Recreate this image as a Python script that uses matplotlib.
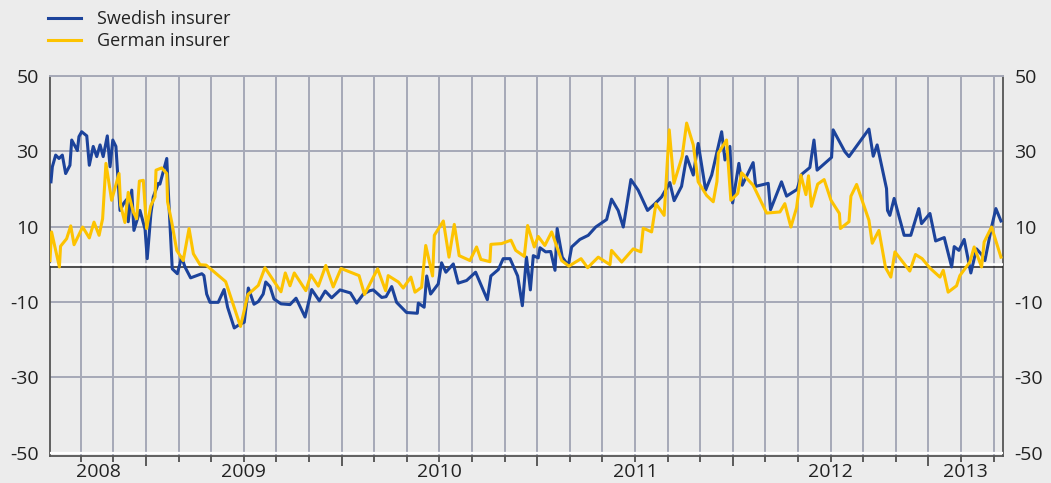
import numpy as np
import matplotlib
matplotlib.use("Agg")
import matplotlib.pyplot as plt

plt.rcParams['font.family'] = ['Open Sans', 'DejaVu Sans']
plt.rcParams['axes.unicode_minus'] = False

# decimal years
swedish_t = [2008.514, 2008.521, 2008.538, 2008.555, 2008.572, 2008.589, 2008.611, 2008.620, 2008.649, 2008.657,
             2008.671, 2008.697, 2008.710, 2008.730, 2008.748, 2008.765, 2008.781, 2008.802, 2008.816, 2008.830,
             2008.846, 2008.867, 2008.887, 2008.901, 2008.909, 2008.927, 2008.938, 2008.969, 2008.995, 2009.006,
             2009.025, 2009.037, 2009.063, 2009.071, 2009.106, 2009.117, 2009.134, 2009.160, 2009.182, 2009.199,
             2009.228, 2009.285, 2009.296, 2009.310, 2009.327, 2009.369, 2009.399, 2009.417, 2009.451, 2009.480,
             2009.502, 2009.523, 2009.552, 2009.574, 2009.599, 2009.612, 2009.634, 2009.654, 2009.690, 2009.736,
             2009.767, 2009.813, 2009.847, 2009.886, 2009.916, 2009.949, 2009.992, 2010.045, 2010.077, 2010.111,
             2010.145, 2010.162, 2010.205, 2010.227, 2010.256, 2010.281, 2010.332, 2010.387, 2010.392, 2010.422,
             2010.435, 2010.455, 2010.494, 2010.511, 2010.533, 2010.571, 2010.596, 2010.639, 2010.685, 2010.745,
             2010.763, 2010.801, 2010.826, 2010.861, 2010.900, 2010.924, 2010.945, 2010.965, 2010.980, 2011.005,
             2011.014, 2011.043, 2011.069, 2011.091, 2011.102, 2011.128, 2011.159, 2011.176, 2011.218, 2011.261,
             2011.299, 2011.355, 2011.380, 2011.414, 2011.440, 2011.479, 2011.516, 2011.564, 2011.602, 2011.636,
             2011.678, 2011.700, 2011.738, 2011.764, 2011.798, 2011.823, 2011.861, 2011.892, 2011.943, 2011.960,
             2011.985, 2011.999, 2012.031, 2012.048, 2012.104, 2012.117, 2012.181, 2012.193, 2012.249, 2012.275,
             2012.329, 2012.352, 2012.394, 2012.415, 2012.431, 2012.505, 2012.513, 2012.573, 2012.594, 2012.696,
             2012.718, 2012.738, 2012.786, 2012.791, 2012.803, 2012.825, 2012.876, 2012.910, 2012.951, 2012.965,
             2013.008, 2013.037, 2013.081, 2013.119, 2013.132, 2013.156, 2013.183, 2013.217, 2013.246, 2013.272,
             2013.289, 2013.323, 2013.345, 2013.371]
swedish = [21.9, 25.9, 29.0, 28.1, 29.0, 24.1, 26.3, 33.0, 30.2, 33.9,
           35.2, 34.1, 26.3, 31.3, 28.6, 31.7, 28.6, 34.1, 25.9, 33.0,
           31.3, 14.3, 16.3, 17.2, 11.3, 19.7, 9.0, 14.3, 9.3, 1.5,
           13.5, 17.9, 21.5, 21.3, 28.1, 16.1, -1.2, -2.5, 1.9, -0.7,
           -3.6, -2.5, -3.0, -7.9, -10.1, -10.1, -6.7, -11.4, -16.9, -15.9,
           -15.4, -6.3, -10.6, -9.9, -7.9, -4.7, -5.9, -9.2, -10.5, -10.7,
           -9.0, -14.0, -6.7, -9.7, -7.1, -8.9, -6.8, -7.6, -10.3, -7.9,
           -7.0, -6.8, -8.8, -8.6, -5.9, -10.1, -12.8, -13.0, -10.3, -11.4,
           -3.1, -7.9, -5.2, 0.4, -2.1, 0.1, -5.0, -4.3, -2.1, -9.4,
           -3.1, -1.4, 1.5, 1.5, -3.1, -11.0, 1.9, -6.8, 2.3, 1.7,
           4.4, 3.3, 3.4, -1.6, 9.5, 1.9, -0.3, 4.6, 6.6, 7.7,
           9.9, 11.9, 17.3, 14.3, 9.9, 22.5, 19.7, 14.3, 16.1, 17.9,
           21.7, 16.9, 20.7, 28.6, 23.7, 32.1, 19.7, 23.7, 35.2, 27.7,
           31.3, 16.3, 26.8, 21.0, 27.0, 20.7, 21.5, 14.5, 21.9, 18.1,
           19.9, 23.9, 25.7, 33.0, 25.0, 28.4, 35.7, 29.9, 28.6, 35.9,
           28.7, 31.7, 20.1, 14.3, 13.0, 17.5, 7.7, 7.7, 14.8, 10.8,
           13.5, 6.2, 7.1, -0.7, 4.7, 3.7, 6.6, -2.3, 4.1, 2.6,
           1.0, 9.9, 14.8, 11.5]

german_t = [2008.509, 2008.517, 2008.557, 2008.563, 2008.594, 2008.615, 2008.632, 2008.676, 2008.710, 2008.734,
            2008.760, 2008.778, 2008.795, 2008.824, 2008.862, 2008.870, 2008.892, 2008.909, 2008.935, 2008.952,
            2008.966, 2008.986, 2009.003, 2009.024, 2009.046, 2009.051, 2009.080, 2009.106, 2009.110, 2009.131,
            2009.157, 2009.190, 2009.220, 2009.242, 2009.276, 2009.307, 2009.407, 2009.483, 2009.521, 2009.548,
            2009.574, 2009.608, 2009.690, 2009.712, 2009.736, 2009.758, 2009.817, 2009.843, 2009.881, 2009.919,
            2009.957, 2009.997, 2010.089, 2010.117, 2010.184, 2010.225, 2010.238, 2010.290, 2010.315, 2010.354,
            2010.375, 2010.409, 2010.430, 2010.465, 2010.474, 2010.520, 2010.549, 2010.576, 2010.601, 2010.656,
            2010.690, 2010.712, 2010.758, 2010.763, 2010.818, 2010.866, 2010.890, 2010.934, 2010.951, 2010.985,
            2011.005, 2011.039, 2011.074, 2011.125, 2011.162, 2011.224, 2011.258, 2011.312, 2011.372, 2011.380,
            2011.432, 2011.491, 2011.530, 2011.542, 2011.585, 2011.607, 2011.649, 2011.675, 2011.699, 2011.741,
            2011.764, 2011.798, 2011.823, 2011.866, 2011.900, 2011.919, 2011.926, 2011.968, 2011.990, 2012.025,
            2012.045, 2012.104, 2012.173, 2012.241, 2012.266, 2012.297, 2012.326, 2012.348, 2012.374, 2012.387,
            2012.402, 2012.434, 2012.467, 2012.502, 2012.545, 2012.550, 2012.594, 2012.604, 2012.633, 2012.696,
            2012.713, 2012.747, 2012.781, 2012.808, 2012.829, 2012.905, 2012.934, 2012.968, 2013.008, 2013.059,
            2013.076, 2013.101, 2013.144, 2013.161, 2013.212, 2013.234, 2013.272, 2013.285, 2013.323, 2013.371]
german = [1.0, 8.6, -0.7, 4.8, 6.8, 10.2, 5.2, 9.9, 7.0, 11.2,
          7.7, 12.1, 26.8, 17.0, 24.1, 15.7, 11.1, 19.1, 13.9, 12.1,
          22.1, 22.3, 9.5, 15.5, 17.9, 25.0, 25.6, 24.1, 16.6, 11.3,
          3.7, 1.0, 9.5, 2.8, -0.1, -0.2, -4.6, -16.5, -8.0, -6.8,
          -5.6, -0.9, -7.3, -2.3, -5.7, -2.3, -7.0, -2.8, -5.8, -0.3,
          -6.0, -1.1, -3.0, -8.0, -1.2, -7.0, -3.0, -4.7, -6.3, -3.4,
          -7.4, -6.1, 5.0, -3.1, 7.7, 11.5, 1.9, 10.6, 2.3, 1.0,
          4.6, 1.3, 0.7, 5.3, 5.5, 6.4, 3.7, 2.1, 10.3, 4.6,
          7.4, 5.0, 8.6, 1.0, -0.5, 1.5, -0.9, 1.9, -0.1, 3.7,
          0.6, 4.1, 3.3, 9.6, 8.6, 16.1, 13.0, 35.7, 21.5, 28.6,
          37.5, 31.7, 21.9, 18.3, 16.6, 22.0, 29.5, 33.0, 17.0, 18.8,
          24.3, 21.0, 13.6, 13.9, 16.1, 9.9, 15.0, 23.7, 18.5, 23.5,
          15.4, 21.3, 22.5, 17.0, 13.5, 9.5, 11.3, 18.1, 21.2, 11.7,
          5.6, 9.0, -0.9, -3.4, 3.3, -1.8, 2.6, 1.5, -1.0, -3.4,
          -1.6, -7.4, -5.7, -3.0, 0.6, 4.6, -0.7, 5.9, 9.9, 1.9]

labels = ['Swedish insurer', 'German insurer']
years = [2008, 2009, 2010, 2011, 2012, 2013]
yticks = [-50, -30, -10, 10, 30, 50]

BG = '#ececec'
GRID = '#a6a9b7'
BLUE = '#1c439b'
YELLOW = '#fdc300'
DARK = '#555555'

x0, x1 = 2008.509, 2013.383

fig = plt.figure(figsize=(10.51, 4.83), dpi=100, facecolor=BG)
ax = fig.add_axes([50 / 1051, 27 / 483, 953.3 / 1051, 380 / 483], facecolor=BG)

ax.plot(swedish_t, swedish, color=BLUE, lw=2.2, label=labels[0], zorder=4)
ax.plot(german_t, german, color=YELLOW, lw=2.2, label=labels[1], zorder=5)

# zero line: white with a thin black line just under it
ax.axhline(0, color='white', lw=1.8, zorder=3)
ax.axhline(-0.6, color='#222222', lw=1.1, zorder=3)
ax.axhline(-50, color='white', lw=1.6, zorder=3)

ax.set_xlim(x0, x1)
ax.set_ylim(-50.9, 50)

ax.set_yticks(yticks)
ax.set_xticks(years[1:])
minor = [y + i / 6 for y in years for i in range(1, 6)]
ax.set_xticks([m for m in minor if x0 < m < x1], minor=True)
ax.set_xticklabels([])
ax.set_xticklabels([], minor=True)

ax.grid(True, which='both', axis='x', color=GRID, lw=1.4, zorder=1)
ax.grid(True, axis='y', color=GRID, lw=1.4, zorder=1)
ax.set_axisbelow(True)

ax.tick_params(axis='y', length=0, labelleft=True, labelright=True,
               labelsize=14, labelcolor='#222222', pad=8)
ax.tick_params(axis='x', which='major', direction='out', length=7, width=1.1, color='#333333')
ax.tick_params(axis='x', which='minor', direction='out', length=4.5, width=1.1, color='#333333')

for side in ['left', 'right', 'bottom']:
    ax.spines[side].set_color(DARK)
    ax.spines[side].set_linewidth(1.3)
ax.spines['top'].set_color(GRID)
ax.spines['top'].set_linewidth(1.4)

xaxis_tr = ax.get_xaxis_transform()
for yr in years:
    a, b = max(yr, x0), min(yr + 1, x1)
    ax.text((a + b) / 2, -0.018, str(yr), transform=xaxis_tr, ha='center', va='top',
            fontsize=14, color='#222222')

fig.legend(loc='upper left', bbox_to_anchor=(48 / 1051, 1 - 10 / 483), frameon=False,
           fontsize=13, handlelength=1.8, handletextpad=0.9, labelspacing=0.22,
           borderpad=0, borderaxespad=0, labelcolor='#222222')

fig.savefig('out.png', dpi=100, facecolor=BG)
